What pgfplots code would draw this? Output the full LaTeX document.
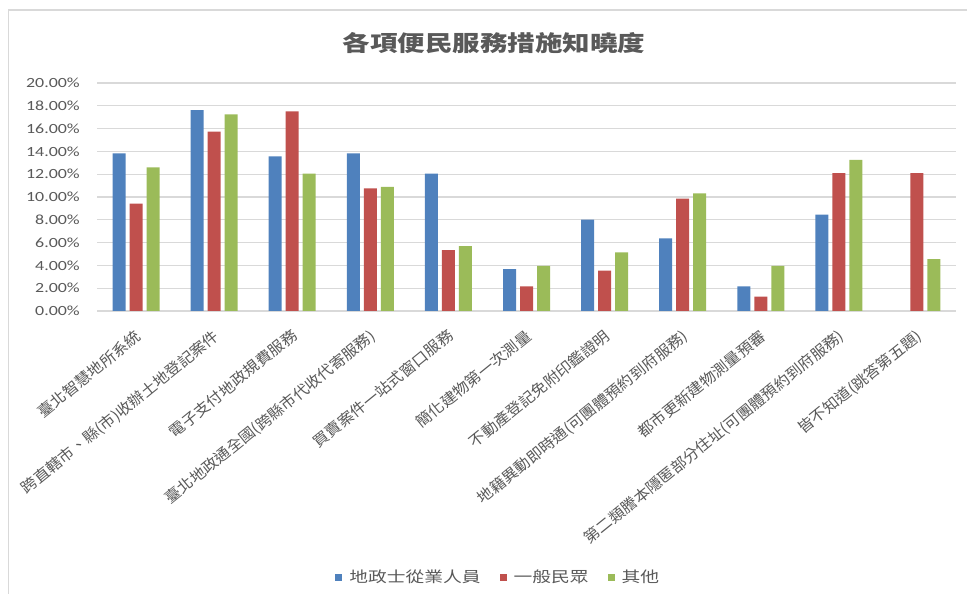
\documentclass[border=0pt]{standalone}
\usepackage{fontspec}
\usepackage{pgfplots}
\pgfplotsset{compat=1.18}
\newfontfamily\cjk[FakeStretch=1.25]{Noto Sans CJK TC}
\newfontfamily\cjklab[FakeStretch=1.06]{Noto Sans CJK TC}
\newfontfamily\tickf[FakeStretch=1.28]{Carlito}
\definecolor{txtgray}{HTML}{595959}
\definecolor{gridgray}{HTML}{D9D9D9}
\definecolor{cblue}{HTML}{4F81BD}
\definecolor{cred}{HTML}{C0504D}
\definecolor{cgreen}{HTML}{9BBB59}
\begin{document}
\begin{tikzpicture}
\useasboundingbox (0,0) rectangle (967bp,594bp);
\draw[gridgray, line width=1.5bp] (8.5bp,0) -- (8.5bp,584bp) -- (967bp,584bp);
\node[text=txtgray, font=\cjk\bfseries\fontsize{22bp}{26bp}\selectfont] at (494bp,551bp) {各項便民服務措施知曉度};
\begin{axis}[
    at={(97bp,283bp)}, anchor=south west,
    scale only axis, width=859bp, height=228bp,
    ybar=4bp, bar width=13bp,
    xmin=-0.5, xmax=10.5,
    ymin=0, ymax=20,
    xtick={0,...,10},
    xticklabels={臺北智慧地所系統, 跨直轄市、縣(市)收辦土地登記案件, 電子支付地政規費服務, 臺北地政通全國(跨縣市代收代寄服務), 買賣案件一站式窗口服務, 簡化建物第一次測量, 不動產登記免附印鑑證明, 地籍異動即時通(可團體預約到府服務), 都市更新建物測量預審, 第二類謄本隱匿部分住址(可團體預約到府服務), 皆不知道(跳答第五題)},
    ytick={0,2,...,20},
    yticklabels={0.00\%,2.00\%,4.00\%,6.00\%,8.00\%,10.00\%,12.00\%,14.00\%,16.00\%,18.00\%,20.00\%},
    major tick length=0,
    axis x line*=bottom, axis y line*=left,
    y axis line style={draw=none},
    x axis line style={draw=gridgray, line width=1.5bp, -},
    ymajorgrids, grid style={gridgray, line width=1.3bp},
    yticklabel style={font=\tickf\fontsize{14bp}{16bp}\selectfont, text=txtgray, inner sep=0pt, xshift=-17bp},
    xticklabel style={font=\cjklab\fontsize{15bp}{17bp}\selectfont, text=txtgray, rotate=39, anchor=north east, inner sep=0pt, yshift=-12bp, xshift=-12bp},
    legend columns=3,
    legend style={draw=none, at={(0.467,-1.167)}, anchor=center, font=\cjk\fontsize{15bp}{17bp}\selectfont, text=txtgray, /tikz/every even column/.append style={column sep=17bp}},
    legend image code/.code={\fill[#1, draw=none] (0bp,-3.5bp) rectangle (7bp,3.5bp); \path (12bp,0bp);},
]
\addplot[fill=cblue, draw=none] coordinates {
  (0,13.83) (1,17.63) (2,13.57) (3,13.83) (4,12.05) (5,3.68) (6,8.01) (7,6.37) (8,2.16) (9,8.45)
};
\addplot[fill=cred, draw=none] coordinates {
  (0,9.42) (1,15.73) (2,17.51) (3,10.76) (4,5.35) (5,2.16) (6,3.54) (7,9.85) (8,1.26) (9,12.10) (10,12.10)
};
\addplot[fill=cgreen, draw=none] coordinates {
  (0,12.60) (1,17.25) (2,12.05) (3,10.88) (4,5.70) (5,3.95) (6,5.15) (7,10.32) (8,3.95) (9,13.25) (10,4.56)
};
\legend{地政士從業人員, 一般民眾, 其他}
\end{axis}
\end{tikzpicture}
\end{document}
